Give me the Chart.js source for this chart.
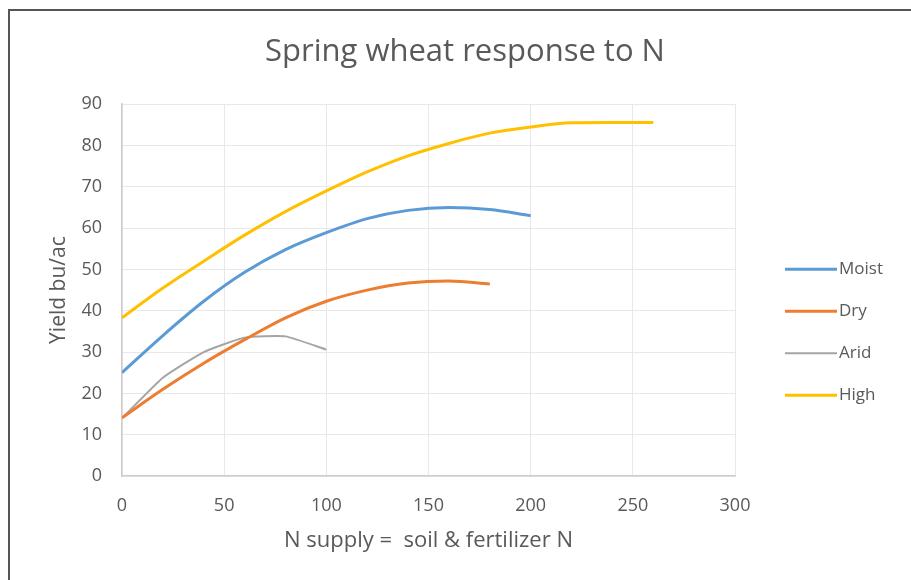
<!DOCTYPE html>
<html>
<head>
<meta charset="utf-8">
<script src="https://cdn.jsdelivr.net/npm/chart.js@4.4.1/dist/chart.umd.min.js"></script>
<style>
  html, body { margin: 0; padding: 0; background: #fff; }
  #frame {
    position: absolute; left: 8px; top: 9px; width: 910px; height: 580px;
    border-left: 2px solid #555; border-top: 2px solid #555;
  }
  #chart { position: absolute; left: 0; top: 0; }
</style>
</head>
<body>
<div id="frame"></div>
<canvas id="chart" width="911" height="580"></canvas>
<script>
const TEXT_COLOR = "#595959";
const FONT = "'Open Sans', Lato, sans-serif";

// N supply (x) and yield (bu/ac)
const moistN = [0, 20, 40, 60, 80, 100, 120, 140, 160, 180, 200];
const moistYield = [25, 34, 42.3, 49.3, 54.8, 58.9, 62.3, 64.3, 65, 64.5, 63];

const dryN = [0, 20, 40, 60, 80, 100, 120, 140, 160, 180];
const dryYield = [14.1, 21, 27.3, 33, 38.3, 42.3, 45, 46.7, 47.2, 46.5];

const aridN = [0, 20, 40, 60, 80, 100];
const aridYield = [14, 23.8, 30, 33.5, 33.8, 30.6];

const highN = [0, 20, 40, 60, 80, 100, 120, 140, 160, 180, 200, 220, 240, 260];
const highYield = [38.3, 45.5, 52, 58.3, 64, 69, 73.6, 77.5, 80.5, 83, 84.5, 85.5, 85.6, 85.6];

const seriesNames = ["Moist", "Dry", "Arid", "High"];
const seriesColors = ["#5b9bd5", "#ed7d31", "#a5a5a5", "#ffc000"];

const xTicks = [0, 50, 100, 150, 200, 250, 300];
const yTicks = [0, 10, 20, 30, 40, 50, 60, 70, 80, 90];

function toPoints(xs, ys) {
  return xs.map((x, i) => ({ x, y: ys[i] }));
}

// legend drawn to the right of the plot, like the Excel original
const sideLegend = {
  id: "sideLegend",
  afterDraw(chart) {
    const { ctx, chartArea } = chart;
    ctx.save();
    ctx.font = "17px " + FONT;
    ctx.textBaseline = "middle";
    ctx.fillStyle = TEXT_COLOR;
    chart.data.datasets.forEach((ds, i) => {
      const y = chartArea.top + 165 + i * 42;
      const x = chartArea.right + 50;
      ctx.strokeStyle = ds.borderColor;
      ctx.lineWidth = ds.borderWidth;
      ctx.beginPath();
      ctx.moveTo(x, y);
      ctx.lineTo(x + 52, y);
      ctx.stroke();
      ctx.fillText(ds.label, x + 54, y);
    });
    ctx.restore();
  },
};

const datasets = [
  toPoints(moistN, moistYield),
  toPoints(dryN, dryYield),
  toPoints(aridN, aridYield),
  toPoints(highN, highYield),
].map((data, i) => ({
  label: seriesNames[i],
  data,
  borderColor: seriesColors[i],
  backgroundColor: seriesColors[i],
  borderWidth: i === 2 ? 2 : 3,
  pointRadius: 0,
  fill: false,
  cubicInterpolationMode: i === 2 ? "default" : "monotone",
  tension: i === 2 ? 0.15 : 0.4,
}));

new Chart(document.getElementById("chart"), {
  type: "line",
  data: { datasets },
  plugins: [sideLegend],
  options: {
    responsive: false,
    animation: false,
    layout: { padding: { left: 40, right: 21, top: 0, bottom: 0 } },
    plugins: {
      legend: { display: false },
      tooltip: { enabled: false },
      title: {
        display: true,
        text: "Spring wheat response to N",
        color: TEXT_COLOR,
        font: { family: FONT, size: 31, weight: "normal" },
        padding: { top: 34, bottom: 33 },
      },
    },
    scales: {
      x: {
        type: "linear",
        min: 0,
        max: 300,
        afterBuildTicks: (scale) => {
          scale.ticks = xTicks.map((v) => ({ value: v }));
        },
        afterFit: (scale) => {
          scale.height = 104;
        },
        grid: { color: "#e8e8e8", drawTicks: false },
        border: { color: "#d3cbcb", width: 1.5 },
        ticks: {
          color: TEXT_COLOR,
          font: { family: FONT, size: 18 },
          padding: 19,
          maxRotation: 0,
        },
        title: {
          display: true,
          text: "N supply =  soil & fertilizer N",
          color: TEXT_COLOR,
          font: { family: FONT, size: 22 },
          padding: { top: 0, bottom: 26 },
        },
      },
      y: {
        min: 0,
        max: 90,
        afterBuildTicks: (scale) => {
          scale.ticks = yTicks.map((v) => ({ value: v }));
        },
        afterFit: (scale) => {
          scale.width = 82;
        },
        grid: { color: "#e8e8e8", drawTicks: false },
        border: { color: "#d3cbcb", width: 1.5 },
        ticks: {
          color: TEXT_COLOR,
          font: { family: FONT, size: 18 },
          padding: 20,
        },
        title: {
          display: true,
          text: "Yield bu/ac",
          color: TEXT_COLOR,
          font: { family: FONT, size: 21 },
          padding: { top: 6, bottom: 0 },
        },
      },
      legendSpace: {
        position: "right",
        display: true,
        grid: { display: false },
        border: { display: false },
        ticks: { display: false },
        afterFit: (scale) => {
          scale.width = 155;
        },
      },
    },
  },
});
</script>
</body>
</html>
